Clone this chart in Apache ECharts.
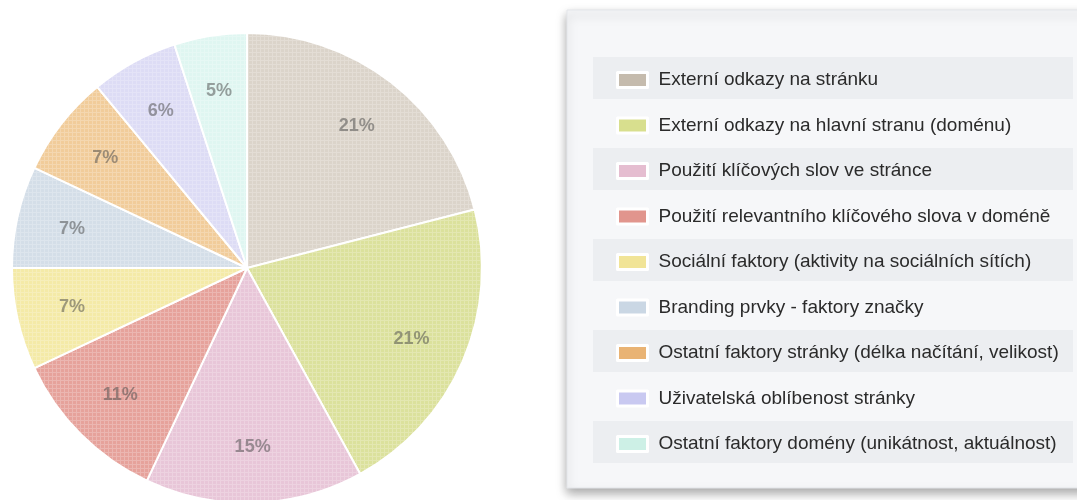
<!DOCTYPE html>
<html>
<head>
<meta charset="utf-8">
<script src="https://cdn.jsdelivr.net/npm/echarts@6/dist/echarts.min.js"></script>
<style>
  html, body { margin: 0; padding: 0; background: #fff; }
  #chart { width: 1077px; height: 500px; }
</style>
</head>
<body>
<div id="chart"></div>
<script>
// data
const categories = [
  'Externí odkazy na stránku',
  'Externí odkazy na hlavní stranu (doménu)',
  'Použití klíčových slov ve stránce',
  'Použití relevantního klíčového slova v doméně',
  'Sociální faktory (aktivity na sociálních sítích)',
  'Branding prvky - faktory značky',
  'Ostatní faktory stránky (délka načítání, velikost)',
  'Uživatelská oblíbenost stránky',
  'Ostatní faktory domény (unikátnost, aktuálnost)'
]
const shares = [21, 21, 15, 11, 7, 7, 7, 6, 5]

// colours
const sliceColors = ['#dbd4ca', '#dbe19c', '#e8c6d8', '#e6a29b', '#f4eaa7', '#d4dee8', '#f1cc9a', '#dddcf5', '#dff6f1']
const swatchColors = ['#c5bbad', '#d8df8e', '#e5bdd0', '#e1958d', '#f1e497', '#cad7e4', '#e9b374', '#c9c9f1', '#cdf0e6']

// fine grid texture like the original
function gridPattern(color) {
  const c = document.createElement('canvas')
  c.width = 4
  c.height = 4
  const g = c.getContext('2d')
  g.fillStyle = color
  g.fillRect(0, 0, 4, 4)
  g.fillStyle = 'rgba(255,255,255,0.22)'
  g.fillRect(0, 0, 4, 1)
  g.fillRect(0, 1, 1, 3)
  return {image: c, repeat: 'repeat'}
}

const cx = 247, cy = 268, R = 235
const rowTop = 57, rowStep = 45.5, bandH = 42

const bands = []
for (let i = 0; i < categories.length; i += 2) {
  bands.push({
    type: 'rect',
    shape: {x: 593, y: rowTop + i * rowStep, width: 480, height: bandH},
    style: {fill: '#eceef1'},
    z: -9
  })
}

const chart = echarts.init(document.getElementById('chart'))
chart.setOption({
  animation: false,
  graphic: [
    {
      type: 'rect',
      shape: {x: 567, y: 10, width: 530, height: 478},
      style: {
        fill: '#f6f7f9', stroke: '#e3e5e9', lineWidth: 1,
        shadowColor: 'rgba(0,0,0,0.35)', shadowBlur: 10, shadowOffsetY: 5
      },
      z: -10
    },
    ...bands
  ],
  legend: {
    orient: 'vertical',
    left: 611,
    top: rowTop + bandH / 2 - 14,
    itemWidth: 30,
    itemHeight: 15,
    itemGap: rowStep - 22,
    icon: 'rect',
    selectedMode: false,
    itemStyle: {borderColor: '#fff', borderWidth: 3},
    textStyle: {
      fontFamily: 'Liberation Sans, Arial, sans-serif',
      fontSize: 19,
      lineHeight: 22,
      color: '#2b2b2b',
      padding: [0, 0, 0, 6]
    },
    data: categories.map((name, i) => ({name, itemStyle: {color: swatchColors[i]}}))
  },
  series: [
    {
      type: 'pie',
      center: [cx, cy],
      radius: R,
      startAngle: 90,
      clockwise: true,
      silent: true,
      label: {show: false},
      labelLine: {show: false},
      itemStyle: {borderColor: '#fff', borderWidth: 2},
      data: categories.map((name, i) => ({
        name,
        value: shares[i],
        itemStyle: {color: gridPattern(sliceColors[i])}
      }))
    },
    {
      // transparent ring only to place the % labels further out
      type: 'pie',
      center: [cx, cy],
      radius: [R * 0.5, R],
      startAngle: 90,
      clockwise: true,
      silent: true,
      legendHoverLink: false,
      itemStyle: {color: 'rgba(0,0,0,0)'},
      label: {
        show: true,
        position: 'inside',
        formatter: '{c}%',
        fontFamily: 'Liberation Sans, Arial, sans-serif',
        fontSize: 18,
        fontWeight: 'bold',
        color: 'rgba(70,70,70,0.5)'
      },
      labelLine: {show: false},
      data: categories.map((name, i) => ({name: name + ' ', value: shares[i]}))
    }
  ]
})
</script>
</body>
</html>
